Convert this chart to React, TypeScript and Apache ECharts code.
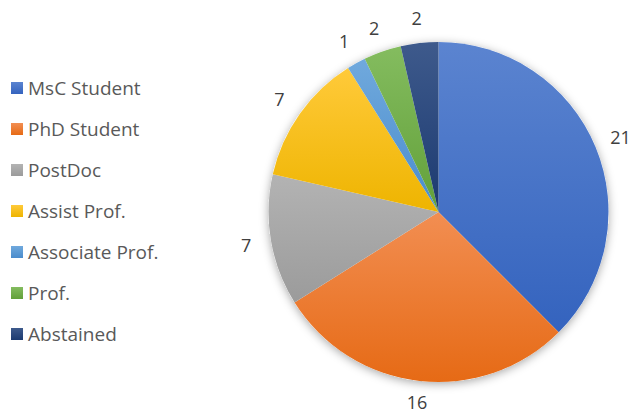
import React, { useEffect, useRef } from "react";
import * as echarts from "echarts";

const categories = [
  "MsC Student",
  "PhD Student",
  "PostDoc",
  "Assist Prof.",
  "Associate Prof.",
  "Prof.",
  "Abstained",
];
const counts = [21, 16, 7, 7, 1, 2, 2];
const topColors = ["#5B84D0", "#F28E52", "#B3B3B3", "#FFCA3A", "#70A9DD", "#84BC5F", "#3E5A8C"];
const bottomColors = ["#3463BE", "#E66A15", "#9B9B9B", "#EEB400", "#4A8CCC", "#62A039", "#1C3A70"];
const labelGaps = [27, 21, 25, 25, 25, 25, 25];

export default function App() {
  const ref = useRef<HTMLDivElement>(null);
  useEffect(() => {
    if (!ref.current) return;
    const chart = echarts.init(ref.current, null, { renderer: "svg" });
    const data = categories.map((name, i) => ({
      name,
      value: counts[i],
      labelLine: { show: false, length: labelGaps[i], length2: 0 },
      itemStyle: {
        color: new echarts.graphic.LinearGradient(0, 0, 0, 1, [
          { offset: 0, color: topColors[i] },
          { offset: 1, color: bottomColors[i] },
        ]),
      },
    }));
    chart.setOption({
      animation: false,
      backgroundColor: "#ffffff",
      legend: {
        orient: "vertical",
        left: 6,
        top: 73,
        data: categories,
        icon: "rect",
        itemWidth: 12,
        itemHeight: 12,
        itemGap: 21,
        selectedMode: false,
        textStyle: {
          fontFamily: "Open Sans",
          fontSize: 19,
          lineHeight: 20,
          color: "#595959",
        },
      },
      series: [
        {
          type: "pie",
          silent: true,
          center: [438.5, 212],
          radius: 170,
          z: 1,
          label: { show: false },
          labelLine: { show: false },
          itemStyle: {
            color: "#ffffff",
            shadowBlur: 10,
            shadowColor: "rgba(0,0,0,0.35)",
            shadowOffsetY: 2,
          },
          data: [{ name: "", value: 1 }],
        },
        {
          type: "pie",
          center: [438.5, 212],
          radius: 170,
          z: 2,
          startAngle: 90,
          clockwise: true,
          avoidLabelOverlap: false,
          label: {
            show: true,
            position: "outside",
            formatter: "{c}",
            fontFamily: "Open Sans",
            fontSize: 18,
            lineHeight: 16,
            color: "#404040",
            distanceToLabelLine: 0,
          },
          labelLine: { show: false, length: 25, length2: 0 },
          labelLayout: () => ({ align: "center" }),
          data,
        },
      ],
    });
    return () => chart.dispose();
  }, []);
  return (
    <div
      ref={ref}
      style={{ position: "fixed", left: 0, top: 0, width: 633, height: 414 }}
    />
  );
}
